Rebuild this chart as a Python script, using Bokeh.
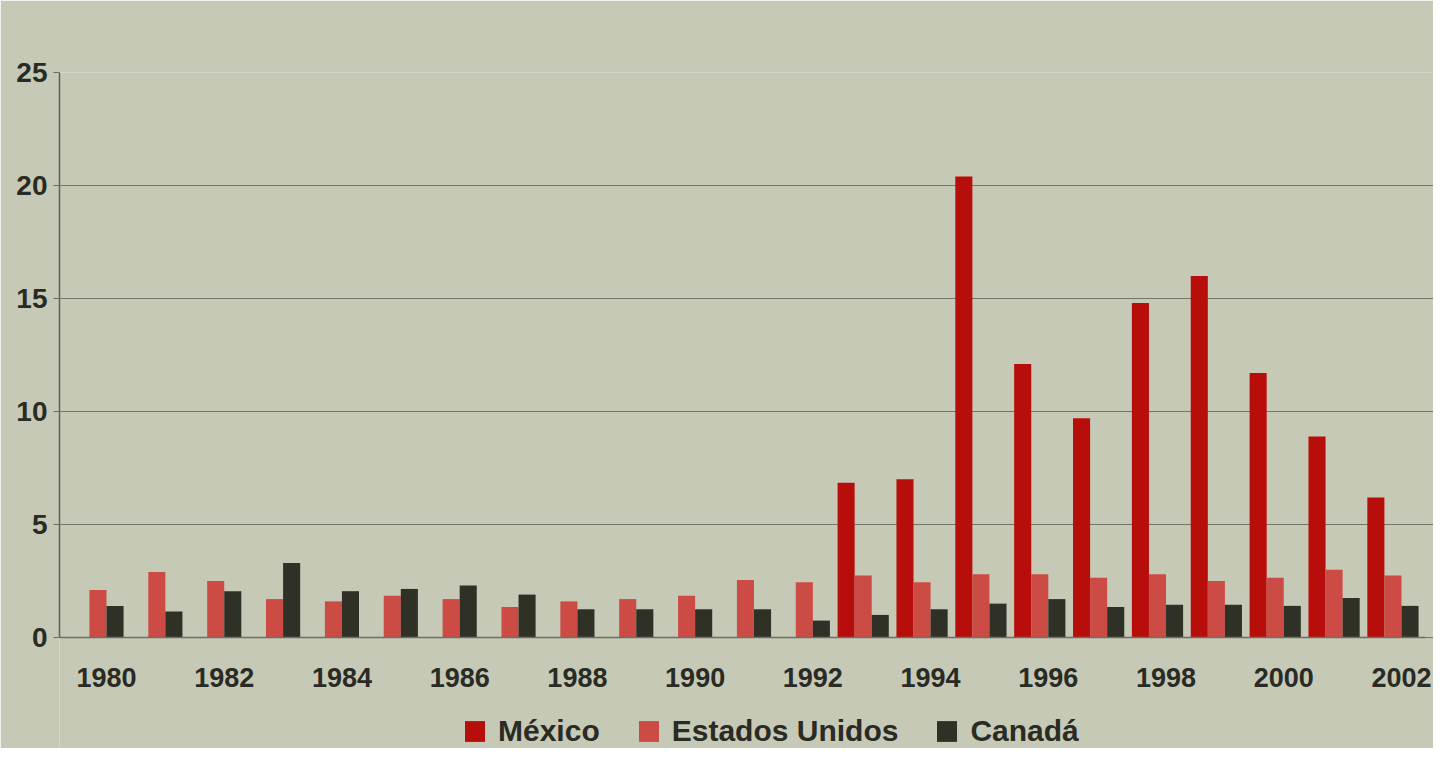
from bokeh.plotting import figure
from bokeh.models import ColumnDataSource, FixedTicker, Legend, LegendItem
from bokeh.transform import dodge
from bokeh.embed import file_html
from bokeh.resources import INLINE

years = list(range(1980, 2003))
mexico = [None]*13 + [6.85, 7.0, 20.4, 12.1, 9.7, 14.8, 16.0, 11.7, 8.9, 6.2]
estados_unidos = [2.1, 2.9, 2.5, 1.7, 1.6, 1.85, 1.7, 1.35, 1.6, 1.7, 1.85, 2.55, 2.45,
                  2.75, 2.45, 2.8, 2.8, 2.65, 2.8, 2.5, 2.65, 3.0, 2.75]
canada = [1.4, 1.15, 2.05, 3.3, 2.05, 2.15, 2.3, 1.9, 1.25, 1.25, 1.25, 1.25, 0.75,
          1.0, 1.25, 1.5, 1.7, 1.35, 1.45, 1.45, 1.4, 1.75, 1.4]
tick_years = list(range(1980, 2003, 2))
y_ticks = [0, 5, 10, 15, 20, 25]
series_names = ["México", "Estados Unidos", "Canadá"]

mx_vals = [float('nan') if v is None else v for v in mexico]
src = ColumnDataSource(dict(year=years, mx=mx_vals, us=estados_unidos, ca=canada))

BG = "#c6c9b6"
FONT = "Liberation Sans"
TXT = "#2a2b24"

X0, X1 = 1979.2015, 2002.544
# frame spans 0..25 over 565px; extended below zero to make room for labels and legend
p = figure(width=1433, height=748, output_backend="svg", toolbar_location=None,
           x_range=(X0, X1), y_range=(-4.91, 25),
           min_border_left=59, min_border_right=0, min_border_top=72, min_border_bottom=0)
p.background_fill_color = BG
p.border_fill_color = BG
p.outline_line_color = None

w = 0.29
r_mx = p.vbar(x=dodge('year', -0.435, range=p.x_range), top='mx', bottom=0, width=w, source=src,
              fill_color="#b80e0b", line_color=None)
r_us = p.vbar(x=dodge('year', -0.145, range=p.x_range), top='us', bottom=0, width=w, source=src,
              fill_color="#cc4c45", line_color=None)
r_ca = p.vbar(x=dodge('year', 0.145, range=p.x_range), top='ca', bottom=0, width=w, source=src,
              fill_color="#2f3127", line_color=None)

p.xgrid.grid_line_color = None
p.ygrid.grid_line_color = "#73776a"
p.ygrid.grid_line_width = 1.2
p.ygrid.ticker = FixedTicker(ticks=y_ticks)

p.xaxis.fixed_location = 0
p.xaxis.bounds = (X0, 2002.4)
p.xaxis.ticker = FixedTicker(ticks=tick_years)
p.xaxis.major_tick_line_color = None
p.xaxis.minor_tick_line_color = None
p.xaxis.axis_line_color = "#6c7063"
p.xaxis.axis_line_width = 1.5
p.xaxis.major_label_standoff = 24
p.xaxis.major_label_text_font = FONT
p.xaxis.major_label_text_font_style = "bold"
p.xaxis.major_label_text_font_size = "27px"
p.xaxis.major_label_text_color = TXT

p.yaxis.ticker = FixedTicker(ticks=y_ticks)
p.yaxis.bounds = (0, 25)
p.yaxis.major_tick_out = 6
p.yaxis.major_tick_in = 0
p.yaxis.major_tick_line_color = "#6c7063"
p.yaxis.minor_tick_line_color = None
p.yaxis.axis_line_color = "#5d6156"
p.yaxis.axis_line_width = 1.5
p.yaxis.major_label_standoff = 6
p.yaxis.major_label_text_font = FONT
p.yaxis.major_label_text_font_style = "bold"
p.yaxis.major_label_text_font_size = "28px"
p.yaxis.major_label_text_color = TXT

legend = Legend(items=[LegendItem(label=series_names[0], renderers=[r_mx]),
                       LegendItem(label=series_names[1], renderers=[r_us]),
                       LegendItem(label=series_names[2], renderers=[r_ca])],
                orientation="horizontal", location=(403, 0))
legend.background_fill_alpha = 0
legend.border_line_color = None
legend.label_text_font = FONT
legend.label_text_font_style = "bold"
legend.label_text_font_size = "30px"
legend.label_text_color = TXT
legend.glyph_width = 25
legend.glyph_height = 26
legend.spacing = 36
legend.label_standoff = 11
legend.padding = 0
legend.margin = 0
p.add_layout(legend, "center")

open("out.html", "w").write(file_html(p, INLINE))
